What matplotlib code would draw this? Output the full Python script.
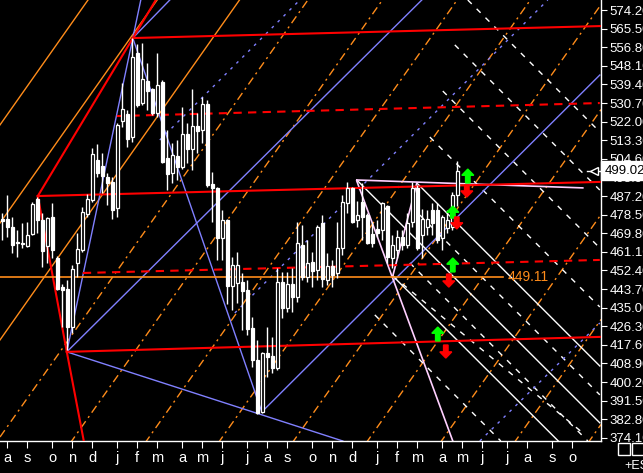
import matplotlib
matplotlib.use("Agg")
import matplotlib.pyplot as plt
from matplotlib.patches import FancyArrow, Rectangle
import numpy as np

plt.rcParams['font.family'] = ['Liberation Sans', 'DejaVu Sans']

# weekly candles
opens = [476.5, 476.5, 472.7, 465.8, 465.3, 463.8, 469.5, 485.8, 476.0, 463.8,
         477.4, 458.3, 444.6, 443.7, 426.0, 455.9, 462.0, 478.8, 485.4, 504.1,
         501.3, 496.1, 493.8, 481.6, 522.3, 525.6, 514.8, 554.1, 530.7, 541.0,
         537.3, 526.1, 540.5, 505.0, 498.0, 505.9, 500.8, 516.2, 509.2, 519.9,
         518.1, 530.2, 492.8, 491.0, 467.6, 476.0, 445.1, 446.5, 447.0, 443.3,
         425.5, 410.5, 386.2, 413.8, 412.4, 406.8, 447.0, 434.8, 446.1, 440.0,
         464.3, 449.3, 456.4, 452.6, 474.6, 447.9, 454.4, 451.2, 462.9, 483.9,
         490.9, 476.0, 484.4, 478.4, 469.5, 471.8, 471.3, 482.5, 458.3, 462.0,
         468.1, 464.3, 475.1, 490.9, 469.0, 472.7, 480.7, 480.7, 467.6, 472.2,
         472.7, 487.7]
closes = [475.5, 472.7, 464.3, 465.3, 464.8, 469.0, 483.5, 476.0, 461.5, 476.9,
          462.0, 443.7, 443.3, 426.0, 453.0, 462.4, 479.8, 485.8, 506.9, 498.0,
          496.6, 493.3, 480.7, 520.4, 527.9, 513.9, 552.2, 529.8, 541.9, 536.3,
          526.1, 539.1, 503.1, 497.5, 506.4, 500.8, 516.2, 509.2, 519.9, 517.6,
          530.2, 492.4, 491.0, 467.6, 476.0, 445.1, 454.9, 454.9, 442.8, 425.1,
          410.5, 385.7, 413.8, 411.9, 406.8, 447.0, 434.8, 446.1, 440.0, 465.3,
          449.3, 455.9, 452.1, 472.7, 448.4, 454.4, 450.3, 462.9, 484.4, 490.9,
          475.1, 478.4, 477.4, 465.3, 465.3, 469.9, 483.9, 458.7, 464.3, 468.1,
          464.3, 474.6, 490.9, 462.9, 476.5, 476.5, 474.6, 466.7, 477.4, 476.0,
          487.7, 499.0]
highs = [479.3, 487.7, 477.4, 471.3, 474.6, 475.1, 484.4, 486.8, 479.3, 477.4,
         483.9, 459.0, 446.0, 447.9, 454.9, 469.9, 482.0, 488.2, 509.7, 511.6,
         507.3, 498.0, 496.1, 521.3, 540.1, 527.5, 561.1, 558.3, 558.8, 549.4,
         537.7, 554.1, 541.5, 518.1, 512.0, 513.4, 528.8, 521.3, 537.3, 526.1,
         533.5, 532.1, 498.4, 491.5, 480.7, 476.5, 458.7, 461.0, 451.2, 447.9,
         430.7, 419.9, 414.3, 426.0, 421.3, 453.5, 451.7, 451.7, 453.5, 475.1,
         473.7, 466.7, 461.0, 473.7, 478.4, 460.6, 457.3, 475.1, 487.7, 493.8,
         491.4, 485.0, 493.3, 479.3, 475.1, 476.0, 484.4, 483.0, 469.0, 471.3,
         471.3, 479.3, 493.8, 492.4, 481.1, 480.7, 483.9, 483.9, 478.4, 480.7,
         489.0, 503.6]
lows = [466.7, 468.1, 460.6, 458.7, 462.9, 463.4, 469.0, 469.9, 454.0, 455.9,
        458.3, 443.3, 426.0, 415.2, 423.2, 449.3, 461.0, 477.4, 484.4, 496.1,
        488.6, 483.0, 476.5, 477.4, 519.5, 510.1, 512.5, 528.8, 529.8, 527.5,
        525.0, 524.2, 502.7, 490.0, 493.3, 494.7, 499.8, 502.7, 499.4, 507.3,
        512.0, 491.5, 475.1, 457.3, 457.3, 436.8, 433.9, 437.2, 424.6, 422.3,
        407.3, 385.2, 385.7, 402.6, 404.4, 405.9, 430.1, 432.9, 432.9, 437.7,
        447.9, 447.0, 444.6, 447.9, 444.6, 445.6, 444.6, 448.9, 459.6, 479.3,
        474.6, 472.7, 466.7, 464.8, 463.4, 468.1, 466.7, 455.9, 453.5, 458.3,
        462.0, 462.9, 472.7, 462.0, 458.3, 469.0, 469.0, 465.3, 462.0, 469.9,
        471.3, 482.5]
last_price = 499.02
level_price = 449.11

month_pos = [1, 5, 10, 14, 18, 23, 27, 31, 36, 40, 44, 49, 53, 57, 62, 66, 70,
             75, 79, 83, 88, 92, 96, 101, 105, 110, 114]
month_lbl = ['a', 's', 'o', 'n', 'd', 'j', 'f', 'm', 'a', 'm', 'j', 'j', 'a',
             's', 'o', 'n', 'd', 'j', 'f', 'm', 'a', 'm', 'j', 'j', 'a', 's', 'o']
price_ticks = [374.10, 382.80, 391.50, 400.20, 408.90, 417.60, 426.30, 435.00,
               443.70, 452.40, 461.10, 469.80, 478.50, 487.20, 495.90, 504.60,
               513.30, 522.00, 530.70, 539.40, 548.10, 556.80, 565.50, 574.20]

# trend lines (x0, y0, x1, y1) in week index / price
red_solid = [(26.1, 561.1, 119.5, 566.7), (7.1, 487.2, 119.5, 493.8),
             (12.9, 414.3, 119.5, 421.3), (7.1, 487.2, 12.9, 414.3),
             (12.9, 414.3, 16.3, 372.6), (7.1, 487.2, 30.7, 578.9)]
red_dashed = [(22.9, 524.6, 119.5, 530.7), (16.1, 451.2, 119.5, 457.3)]
blue_solid = [(12.9, 414.3, 27.7, 578.9), (26.1, 561.1, 51.9, 386.2),
              (12.9, 414.3, 68.1, 372.6), (12.9, 414.3, 83.9, 578.9),
              (51.9, 386.2, 119.5, 543.8), (26.1, 561.1, 33.5, 578.9)]
blue_dotted = [(31.5, 513.4, 59.5, 578.9), (46.5, 432.5, 109.1, 578.9),
               (95.5, 372.6, 119.5, 427.8)]
pink_solid = [(70.9, 494.7, 116.1, 491.0), (70.9, 494.2, 90.1, 372.6),
              (78.1, 449.8, 82.9, 493.3)]
white_solid = [(82.9, 493.3, 119.5, 407.7), (70.9, 494.7, 119.5, 381.1),
               (78.1, 449.8, 111.2, 372.6)]
white_dashed = [(85.5, 514.8, 119.5, 435.3), (88.1, 536.3, 119.5, 462.9),
                (90.5, 557.9, 119.5, 490.0), (93.1, 578.9, 119.5, 517.2),
                (83.5, 478.3, 119.5, 394.2), (81.5, 455.9, 117.1, 372.6),
                (74.5, 431.6, 99.7, 372.6), (78.1, 449.8, 116.1, 376.4)]
# parallel orange channel: price at week 0, rise per week
orange_base = [522.0, 476.1, 421.4, 376.0, 326.5, 276.9, 228.3, 179.2, 130.1,
               81.0, 31.9, -17.2]
orange_slope = 3.32
orange_solid_count = 3

# signal arrows: (week, tail price, tip price)
green_up = [(93.1, 493.3, 499.8), (90.1, 476.9, 482.5), (90.1, 451.7, 458.2),
            (87.1, 419.4, 425.9)]
red_down = [(92.9, 492.4, 486.7), (90.9, 477.4, 471.8), (89.3, 450.7, 444.6),
            (88.7, 417.5, 411.4)]

fig = plt.figure(figsize=(6.43, 4.73), dpi=100, facecolor='black')
ax = fig.add_axes([0, 32 / 473, 601 / 643, 441 / 473])
ax.set_facecolor('black')
ax.set_xlim(-0.46, 119.74)
ax.set_ylim(372.6, 578.9)

xs = np.array([-0.46, 119.74])
for k, b in enumerate(orange_base):
    ls = '-' if k < orange_solid_count else (0, (6, 3, 1.5, 3))
    ax.plot(xs, b + orange_slope * xs, color='#ff8c1a', lw=1, ls=ls, zorder=1)

def draw(lines, **kw):
    for x0, y0, x1, y1 in lines:
        ax.plot([x0, x1], [y0, y1], **kw)

draw(white_dashed, color='white', lw=1, ls=(0, (4, 5)), zorder=2)
draw(blue_dotted, color='#8080ff', lw=1, ls=(0, (2, 4)), zorder=2)
draw(blue_solid, color='#8080ff', lw=1, zorder=2)
draw(white_solid, color='white', lw=1, zorder=2)
draw(pink_solid, color='#ffd0ff', lw=1.2, zorder=2)
draw(red_dashed, color='#ff0000', lw=1.5, ls=(0, (4, 3)), zorder=3)
draw(red_solid, color='#ff0000', lw=1.5, zorder=3)

ax.plot([-0.46, 100.1], [level_price, level_price], color='#ff8c1a', lw=1.2, zorder=3)
ax.text(101, level_price, f'{level_price:.2f}', color='#ff8c1a', fontsize=10,
        va='center', ha='left', zorder=4)

o = np.array(opens); c = np.array(closes)
idx = np.arange(len(o))
up = c >= o
ax.vlines(idx, lows, highs, color='white', lw=1, zorder=5)
ax.bar(idx[up], (c - o)[up], bottom=o[up], width=0.7, facecolor='black',
       edgecolor='white', lw=0.9, zorder=6)
ax.bar(idx[~up], (o - c)[~up], bottom=c[~up], width=0.7, facecolor='white',
       edgecolor='white', lw=0.9, zorder=6)

for x, y0, y1 in green_up:
    ax.add_patch(FancyArrow(x, y0, 0, y1 - y0, width=0.9, head_width=2.4,
                            head_length=2.9, length_includes_head=True,
                            color='#00ff00', zorder=7))
for x, y0, y1 in red_down:
    ax.add_patch(FancyArrow(x, y0, 0, y1 - y0, width=0.9, head_width=2.4,
                            head_length=2.9, length_includes_head=True,
                            color='#ff0000', zorder=7))

# last price marker
ax.plot([116.9, 119.7], [last_price, last_price], color='white', lw=1, zorder=7)
ax.plot([118.3], [last_price], marker='<', ms=6, mfc='black', mec='white', zorder=8)
ax.text(1.006, last_price, f'{last_price:.2f}', transform=ax.get_yaxis_transform(),
        color='black', fontsize=9.5, va='center', ha='left', zorder=9, clip_on=False,
        bbox=dict(boxstyle='square,pad=0.25', fc='white', ec='white'))

for s in ['left', 'top']:
    ax.spines[s].set_visible(False)
for s in ['bottom', 'right']:
    ax.spines[s].set_color('white')
    ax.spines[s].set_linewidth(1)

ax.yaxis.tick_right()
ax.set_yticks(price_ticks)
ax.set_yticklabels([f'{p:.2f}' for p in price_ticks])
ax.tick_params(axis='y', colors='white', labelsize=9.5, length=4, pad=2)
ax.set_xticks(month_pos)
ax.set_xticklabels(month_lbl)
ax.tick_params(axis='x', colors='white', labelsize=10.5, length=5, pad=2)

fig.patches.append(Rectangle((618 / 643, (473 - 455) / 473), 12 / 643, 12 / 473,
                             transform=fig.transFigure, fill=False, ec='white', lw=1))
fig.patches.append(Rectangle((632 / 643, (473 - 455) / 473), 12 / 643, 12 / 473,
                             transform=fig.transFigure, fill=False, ec='white', lw=1))
fig.text(624 / 643, (473 - 466) / 473, '+ES', color='white', fontsize=9,
         va='center', ha='left')

fig.savefig('out.png', dpi=100, facecolor='black')
